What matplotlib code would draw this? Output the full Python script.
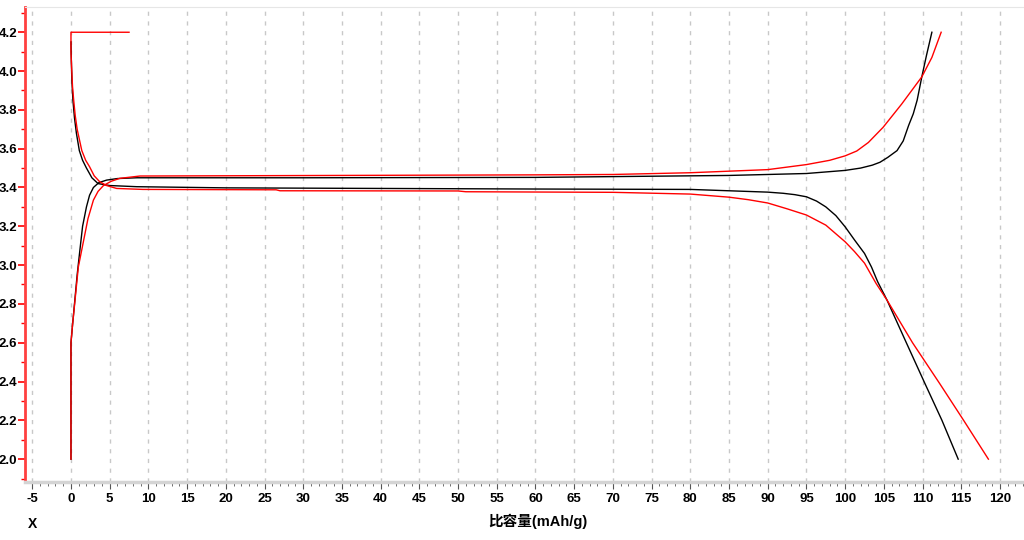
import matplotlib.pyplot as plt
from matplotlib.ticker import MultipleLocator, FormatStrFormatter

plt.rcParams['axes.unicode_minus'] = False

# 充电/放电曲线 (比容量 mAh/g, 电压 V)
black_chg_x = [0, 0, 0.2, 0.5, 0.8, 1.16, 1.5, 2.0, 2.4, 2.9, 3.6, 4.6, 6, 8.5, 30, 60, 70, 85, 95, 100,
               102, 103.5, 104.5, 105.5, 106.7, 107.5, 108.2, 108.8, 109.3, 109.9, 110.5, 111.2]
black_chg_y = [2.0, 2.6, 2.69, 2.82, 2.95, 3.08, 3.2, 3.3, 3.36, 3.40, 3.425, 3.438, 3.446, 3.45, 3.45, 3.452, 3.456, 3.462, 3.472, 3.488,
               3.50, 3.515, 3.53, 3.555, 3.59, 3.64, 3.72, 3.78, 3.85, 3.97, 4.08, 4.2]

red_chg_x = [0, 0, 0.2, 0.65, 0.95, 1.3, 1.6, 2.2, 2.9, 3.5, 4.2, 5.2, 6.3, 8.9, 60, 70, 80, 90, 95, 98, 100,
             101.5, 103, 104.9, 107.3, 109.9, 111.2, 112.4]
red_chg_y = [2.0, 2.6, 2.69, 2.87, 2.99, 3.06, 3.12, 3.24, 3.335, 3.38, 3.41, 3.432, 3.447, 3.459, 3.465, 3.467, 3.476, 3.492, 3.518, 3.54, 3.563,
             3.588, 3.632, 3.71, 3.83, 3.97, 4.07, 4.2]

black_dis_x = [0, 0.05, 0.12, 0.25, 0.45, 0.7, 1.08, 1.5, 2.0, 2.7, 3.5, 5, 8.5, 20, 40, 60, 80, 85, 90, 92, 93.5, 95, 96.3,
               97.5, 98.8, 100, 101.2, 102.5, 103.4, 104.2, 105.4, 107.9, 110.3, 112.5, 114.6]
black_dis_y = [4.15, 4.05, 3.95, 3.85, 3.76, 3.68, 3.59, 3.54, 3.5, 3.45, 3.42, 3.41, 3.404, 3.398, 3.395, 3.392, 3.39, 3.383, 3.376, 3.37, 3.363, 3.352, 3.33,
               3.30, 3.255, 3.197, 3.13, 3.06, 2.99, 2.914, 2.82, 2.6, 2.39, 2.2, 2.0]

red_dis_x = [7.5, 0, 0, 0.1, 0.2, 0.35, 0.55, 0.8, 1.4, 1.9, 2.4, 3.0, 3.7, 4.6, 5.9, 9.3, 26.5, 27, 50, 51, 70, 80, 85, 87.5,
             90, 92.5, 95, 97.5, 100, 101.2, 102.5, 104.0, 105.4, 108.7, 112.2, 115.3, 118.5]
red_dis_y = [4.2, 4.2, 4.1, 4.0, 3.92, 3.85, 3.77, 3.7, 3.59, 3.54, 3.507, 3.46, 3.43, 3.41, 3.395, 3.39, 3.388, 3.383, 3.382, 3.378, 3.375, 3.366, 3.35, 3.337,
             3.32, 3.29, 3.258, 3.206, 3.12, 3.07, 3.01, 2.905, 2.82, 2.6, 2.39, 2.2, 2.0]

x_ticks = list(range(-5, 121, 5))
y_ticks = [2.0, 2.2, 2.4, 2.6, 2.8, 3.0, 3.2, 3.4, 3.6, 3.8, 4.0, 4.2]

fig = plt.figure(figsize=(10.24, 5.4), dpi=100)
ax = fig.add_axes([0.0244, 0.107, 0.9756, 0.88])

ax.plot(black_chg_x, black_chg_y, color='black', lw=1.0)
ax.plot(black_dis_x, black_dis_y, color='black', lw=1.0)
ax.plot(red_chg_x, red_chg_y, color='red', lw=1.0)
ax.plot(red_dis_x, red_dis_y, color='red', lw=1.0)

ax.set_xlim(-5.94, 123.1)
ax.set_ylim(1.881, 4.33)
ax.set_xticks(x_ticks)
ax.xaxis.set_minor_locator(MultipleLocator(1))
ax.set_yticks(y_ticks)
ax.yaxis.set_minor_locator(MultipleLocator(0.1))
ax.yaxis.set_major_formatter(FormatStrFormatter('%.1f'))

ax.grid(axis='x', color='#c8c8c8', linestyle=(0, (3, 4)), lw=1.0)

ax.spines['top'].set_color('#e6e6e6')
ax.spines['right'].set_visible(False)
ax.spines['bottom'].set_color('#d4d4d4')
ax.spines['bottom'].set_linewidth(2.5)
ax.spines['left'].set_color('#ff4040')
ax.spines['left'].set_linewidth(2.0)

ax.tick_params(axis='y', which='major', colors='red', length=5, width=1.2, labelcolor='black', pad=0.5)
ax.tick_params(axis='y', which='minor', colors='red', length=3, width=1.0)
ax.tick_params(axis='x', which='major', colors='#555555', length=5, labelcolor='black', pad=3)
ax.tick_params(axis='x', which='minor', colors='#555555', length=3)
for lab in ax.get_xticklabels() + ax.get_yticklabels():
    lab.set_fontfamily('Liberation Sans')
    lab.set_fontweight('bold')
    lab.set_fontsize(9.5)

fig.text(0.027, 0.022, 'X', family='Liberation Sans', weight='bold', fontsize=10)
fig.text(0.525, 0.026, '比容量(mAh/g)', family=['Liberation Sans', 'Noto Sans CJK SC'],
         weight='bold', fontsize=10.5, ha='center')

plt.savefig('out.png', dpi=100)
